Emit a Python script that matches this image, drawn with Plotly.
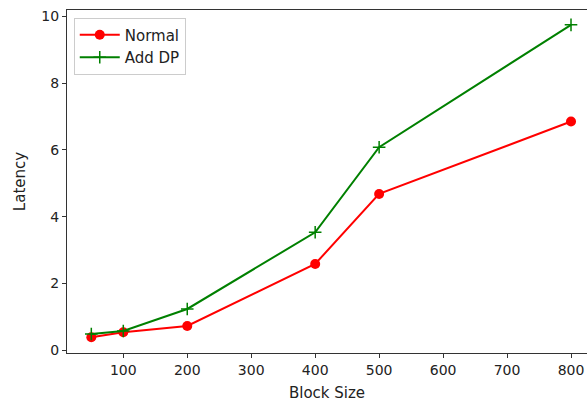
import plotly.graph_objects as go

block_sizes = [50, 100, 200, 400, 500, 800]
normal = [0.38, 0.53, 0.72, 2.58, 4.68, 6.85]
add_dp = [0.48, 0.57, 1.23, 3.53, 6.08, 9.75]
x_ticks = [100, 200, 300, 400, 500, 600, 700, 800]
y_ticks = [0, 2, 4, 6, 8, 10]

fig = go.Figure()
fig.add_trace(go.Scatter(
    x=block_sizes, y=normal, mode="lines+markers", name="Normal",
    line=dict(color="red", width=2),
    marker=dict(symbol="circle", size=10, color="red"),
))
fig.add_trace(go.Scatter(
    x=block_sizes, y=add_dp, mode="lines+markers", name="Add DP",
    line=dict(color="green", width=2),
    marker=dict(symbol="cross-thin-open", size=9, color="green",
                line=dict(color="green", width=1.5)),
))

axis_common = dict(
    showgrid=False, zeroline=False, showline=True, linecolor="#333333",
    linewidth=1, ticks="outside", ticklen=4, tickcolor="#333333",
    automargin=False,
    tickfont=dict(family="DejaVu Sans", size=14, color="#222222"),
)
fig.update_xaxes(
    range=[12, 825], tickvals=x_ticks, mirror=True,
    title=dict(text="Block Size", font=dict(family="DejaVu Sans", size=15, color="#222222"), standoff=10),
    **axis_common,
)
fig.update_yaxes(
    range=[-0.09, 10.195], tickvals=y_ticks, mirror=False,
    title=dict(text="Latency", font=dict(family="DejaVu Sans", size=15, color="#222222"), standoff=12),
    **axis_common,
)
fig.update_layout(
    width=587, height=406,
    margin=dict(l=67, r=0, t=10, b=53),
    paper_bgcolor="white", plot_bgcolor="white",
    font=dict(family="DejaVu Sans"),
    legend=dict(
        x=0.013, y=0.978, xanchor="left", yanchor="top",
        bgcolor="rgba(255,255,255,0.8)", bordercolor="#cccccc", borderwidth=1,
        font=dict(family="DejaVu Sans", size=15, color="#222222"),
        tracegroupgap=0, itemwidth=40,
    ),
)
fig.write_html(
    "out.html",
    config={"displayModeBar": False},
    post_script="document.body.style.margin='0';document.body.style.overflow='hidden';",
)
